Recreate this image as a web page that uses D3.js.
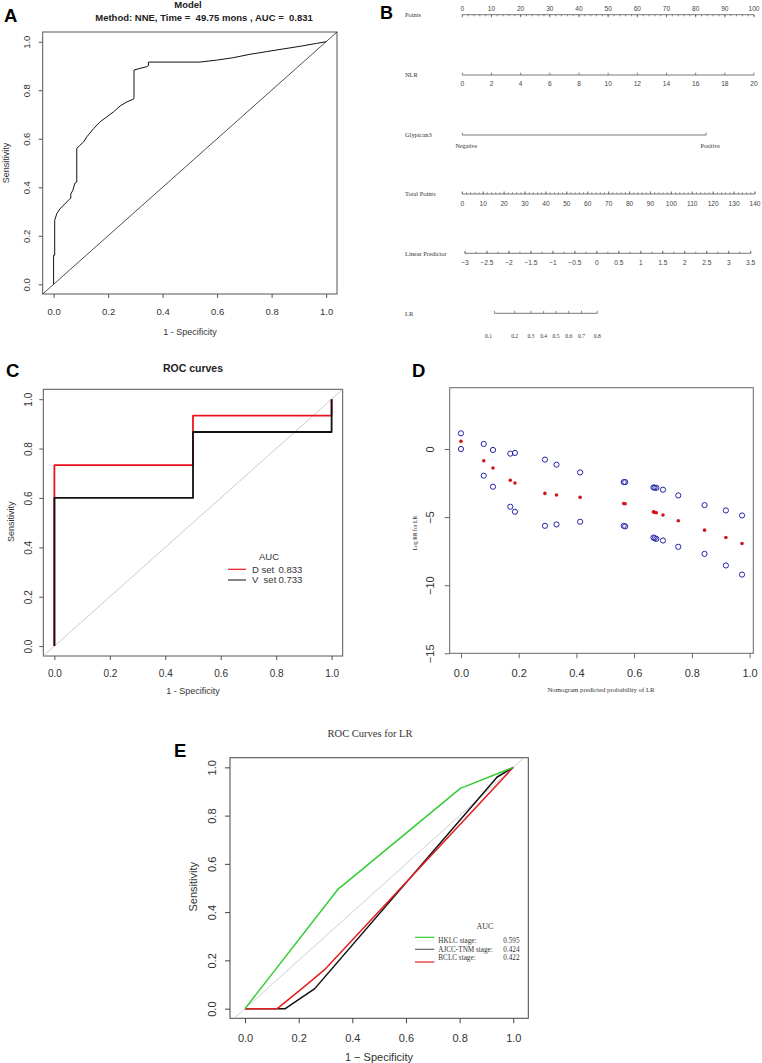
<!DOCTYPE html>
<html><head><meta charset="utf-8">
<script src="https://cdn.jsdelivr.net/npm/d3@7"></script>
<style>
body{margin:0;background:#fff}
svg{display:block;background:#fff}
text{font-family:"Liberation Sans",Arial,sans-serif;fill:#333}
.serif{font-family:"Liberation Serif","Times New Roman",serif}
</style>
</head><body>
<svg id="c" width="762" height="1063"></svg>
<script>
// ---------------- DATA ----------------
// Panel A: ROC (NNE, time 49.75 months)
const aFpr = [0,0,0.004,0.004,0.012,0.024,0.049,0.061,0.063,0.063,0.071,0.076,0.079,0.085,0.085,0.095,0.11,0.122,0.147,0.171,0.195,0.22,0.244,0.269,0.293,0.295,0.295,0.317,0.342,0.348,0.348,0.537,0.598,0.659,0.72,0.781,0.842,0.904,0.965,1];
const aTpr = [0,0.12,0.12,0.264,0.292,0.312,0.34,0.354,0.354,0.372,0.388,0.409,0.418,0.422,0.56,0.571,0.587,0.608,0.642,0.67,0.69,0.711,0.735,0.752,0.763,0.769,0.883,0.89,0.897,0.902,0.916,0.916,0.924,0.934,0.948,0.959,0.97,0.981,0.993,1];
const aTitle1 = "Model";
const aTitle2 = "Method: NNE, Time =  49.75 mons , AUC =  0.831";

// Panel B: nomogram
const pointsTicks = [0,10,20,30,40,50,60,70,80,90,100];
const pointsMinor = d3.range(0,101,2);
const nlrTicks = [0,2,4,6,8,10,12,14,16,18,20];
const nlrToPoints = 5;             // points per NLR unit
const glypicanLevels = ["Negative","Positive"];
const glypicanPoints = [0,83.6];
const totalTicks = [0,10,20,30,40,50,60,70,80,90,100,110,120,130,140];
const totalMinor = d3.range(0,141,2);
const lpTicks = [-3,-2.5,-2,-1.5,-1,-0.5,0,0.5,1,1.5,2,2.5,3,3.5];
const lpMinor = d3.range(-3,3.51,0.25);
const lrTicks = [0.1,0.2,0.3,0.4,0.5,0.6,0.7,0.8];
const lrAtLP = [-2.33,-1.87,-1.50,-1.21,-0.93,-0.64,-0.35,0.01];
const bRows = ["Points","NLR","Glypican3","Total Points","Linear Predictor","LR"];

// Panel C: ROC curves
const cSets = ["D set","V  set"];
const cAUC = ["0.833","0.733"];
const cRedFpr = [0,0,0.5,0.5,1,1],   cRedTpr = [0,0.733,0.733,0.933,0.933,1];
const cBlkFpr = [0,0,0.5,0.5,1,1],   cBlkTpr = [0,0.6,0.6,0.867,0.867,1];

// Panel D: log RR vs nomogram predicted probability
const dX     = [0,0.079,0.111,0.171,0.187,0.291,0.331,0.413,0.564,0.569,0.667,0.671,0.677,0.70,0.753,0.844,0.918,0.974];
const dMean  = [0.56,-0.86,-1.40,-2.30,-2.50,-3.26,-3.38,-3.55,-4.00,-4.02,-4.62,-4.65,-4.68,-4.85,-5.27,-5.96,-6.50,-6.94];
const dUpper = [1.15,0.37,-0.07,-0.34,-0.29,-0.78,-1.15,-1.72,-2.43,-2.43,-2.82,-2.84,-2.85,-2.99,-3.41,-4.12,-4.51,-4.88];
const dLower = [0.0,-1.96,-2.77,-4.24,-4.61,-5.64,-5.54,-5.34,-5.64,-5.68,-6.50,-6.55,-6.60,-6.72,-7.18,-7.70,-8.55,-9.22];
const dYTicks = [0,-5,-10,-15];

// Panel E: ROC curves for LR
const eNames = ["HKLC stage:","AJCC-TNM stage:","BCLC stage:"];
const eAUC = ["0.595","0.424","0.422"];
const eGreenFpr = [0,0.348,0.36,0.805,0.82,1],  eGreenTpr = [0,0.497,0.507,0.915,0.92,1];
const eBlackFpr = [0,0.15,0.26,0.94,1],          eBlackTpr = [0,0,0.083,0.96,1];
const eRedFpr   = [0,0.12,0.22,0.30,1],          eRedTpr   = [0,0,0.09,0.165,1];

const unitTicks = [0,0.2,0.4,0.6,0.8,1.0];

// ---------------- DRAW ----------------
const svg = d3.select("#c");
let clipId = 0;

function rPanel(c){
  const g = svg.append("g");
  const x = d3.scaleLinear().domain(c.xdom).range([c.left,c.right]);
  const y = d3.scaleLinear().domain(c.ydom).range([c.bottom,c.top]);
  const fmt = c.fmt || (d=>d.toFixed(1));
  const gx = g.append("g").attr("transform",`translate(0,${c.bottom})`)
    .call(d3.axisBottom(x).tickValues(c.xticks).tickSize(c.tick).tickSizeOuter(0).tickPadding(c.xpad).tickFormat(fmt));
  gx.select(".domain").remove();
  gx.selectAll("line").attr("stroke",c.boxColor);
  gx.selectAll("text").style("font-size",c.fs+"px").attr("fill","#333");
  const gy = g.append("g").attr("transform",`translate(${c.left},0)`)
    .call(d3.axisLeft(y).tickValues(c.yticks).tickSize(c.tick).tickSizeOuter(0).tickFormat(c.yfmt||fmt));
  gy.select(".domain").remove();
  gy.selectAll("line").attr("stroke",c.boxColor);
  gy.selectAll("text").style("font-size",c.fs+"px").attr("fill","#333")
    .attr("x",0).attr("y",-c.yoff).attr("dy",0).attr("text-anchor","middle").attr("transform","rotate(-90)");
  g.append("rect").attr("x",c.left).attr("y",c.top).attr("width",c.right-c.left).attr("height",c.bottom-c.top)
    .attr("fill","none").attr("stroke",c.boxColor).attr("stroke-width",1);
  const id = "clip"+(clipId++);
  g.append("clipPath").attr("id",id).append("rect").attr("x",c.left).attr("y",c.top)
    .attr("width",c.right-c.left).attr("height",c.bottom-c.top);
  const plot = g.append("g").attr("clip-path",`url(#${id})`);
  return {g,x,y,plot};
}
function curve(p, xs, ys, color, w){
  const pts = xs.map((v,i)=>[v,ys[i]]);
  p.plot.append("path").datum(pts)
    .attr("d", d3.line().x(d=>p.x(d[0])).y(d=>p.y(d[1])))
    .attr("fill","none").attr("stroke",color).attr("stroke-width",w).attr("stroke-linejoin","round");
}
function diag(p, color, w){
  const lo = Math.min(p.x.domain()[0],p.y.domain()[0])-1, hi = Math.max(p.x.domain()[1],p.y.domain()[1])+1;
  p.plot.append("line").attr("x1",p.x(lo)).attr("y1",p.y(lo)).attr("x2",p.x(hi)).attr("y2",p.y(hi))
    .attr("stroke",color).attr("stroke-width",w);
}
function txt(x,y,s,opt={}){
  const t = svg.append("text").attr("x",x).attr("y",y).text(s)
    .style("font-size",(opt.fs||10)+"px").attr("text-anchor",opt.anchor||"start");
  if(opt.bold) t.style("font-weight","bold");
  if(opt.serif) t.attr("class","serif");
  if(opt.fill) t.style("fill",opt.fill);
  if(opt.rot){ t.attr("transform",`rotate(-90,${x},${y})`).attr("dominant-baseline","central"); }
  if(opt.pre) t.style("white-space","pre");
  return t;
}

// Panel letters
txt(4,21.7,"A",{fs:18.5,bold:true,fill:"#000"});
txt(380,18.7,"B",{fs:18,bold:true,fill:"#000"});
txt(6,376.7,"C",{fs:18.5,bold:true,fill:"#000"});
txt(412,377.3,"D",{fs:18.5,bold:true,fill:"#000"});
txt(174,757.3,"E",{fs:18.5,bold:true,fill:"#000"});

// ----- Panel A -----
const pA = rPanel({left:42.7,right:337,top:32,bottom:294,xdom:[-0.04,1.04],ydom:[-0.04,1.04],
  xticks:unitTicks,yticks:unitTicks,tick:4,xpad:10,yoff:12.5,fs:9.5,boxColor:"#555"});
diag(pA,"#222",0.8);
curve(pA,aFpr,aTpr,"#111",1);
txt(188,8,aTitle1,{fs:9.5,bold:true,anchor:"middle",fill:"#222"});
txt(204,20.5,aTitle2,{fs:9.5,bold:true,anchor:"middle",fill:"#222"}).style("white-space","pre");
txt(190,335,"1 - Specificity",{fs:9,anchor:"middle"});
txt(6,163,"Sensitivity",{fs:9,anchor:"middle",rot:true});

// ----- Panel B (nomogram) -----
const sPts = d3.scaleLinear().domain([0,100]).range([462.3,754]);
const sTot = d3.scaleLinear().domain([0,140]).range([462.3,755]);
const sLP  = d3.scaleLinear().domain([-3,3.5]).range([465,750.7]);
const bY = [14.7,75,135,194,253.3,313.3];
const bLine = "#555", bTxt = "#444";
const gB = svg.append("g");
function hline(x1,x2,y){ gB.append("line").attr("x1",x1).attr("x2",x2).attr("y1",y).attr("y2",y).attr("stroke",bLine).attr("stroke-width",0.8); }
function ticks(scale,vals,y,len){ gB.selectAll(null).data(vals).enter().append("line")
  .attr("x1",d=>scale(d)).attr("x2",d=>scale(d)).attr("y1",y).attr("y2",y+len).attr("stroke",bLine).attr("stroke-width",0.7); }
function labels(scale,vals,y,fmt,opt){ vals.forEach(v=>txt(scale(v),y,fmt(v),Object.assign({anchor:"middle",fill:bTxt},opt))); }
bRows.forEach((r,i)=>txt(405,bY[i]+2.3,r,{fs:6.4,serif:true,fill:"#333"}));
// Points
hline(sPts(0),sPts(100),bY[0]);
ticks(sPts,pointsMinor,bY[0],1.6); ticks(sPts,pointsTicks,bY[0],2.6);
labels(sPts,pointsTicks,11.3,d=>d,{fs:6.6});
// NLR
const sNLR = v=>sPts(v*nlrToPoints);
hline(sNLR(0),sNLR(20),bY[1]);
ticks(sNLR,nlrTicks,bY[1],-2.4);
labels(sNLR,nlrTicks,85.6,d=>d,{fs:6.6});
// Glypican3
hline(sPts(glypicanPoints[0]),sPts(glypicanPoints[1]),bY[2]);
ticks(sPts,glypicanPoints,bY[2],-2.4);
glypicanLevels.forEach((l,i)=>txt(sPts(glypicanPoints[i])+4,148.3,l,{fs:6,serif:true,anchor:"middle",fill:"#333"}));
// Total points
hline(sTot(0),sTot(140),bY[3]);
ticks(sTot,totalMinor,bY[3],-1.6); ticks(sTot,totalTicks,bY[3],-2.6);
labels(sTot,totalTicks,205.5,d=>d,{fs:6.6});
// Linear predictor
hline(sLP(-3),sLP(3.5),bY[4]);
ticks(sLP,lpMinor,bY[4],-1.6); ticks(sLP,lpTicks,bY[4],-2.6);
labels(sLP,lpTicks,264.5,d=>String(d).replace("-","\u2212"),{fs:6.6});
// LR
hline(sLP(lrAtLP[0]),sLP(lrAtLP[lrAtLP.length-1]),bY[5]);
ticks(sLP,lrAtLP,bY[5],-2.4);
lrTicks.forEach((v,i)=>txt(sLP(lrAtLP[i])-(i===0?6:0),337.5,v.toFixed(1),{fs:5.6,serif:true,anchor:"middle",fill:"#333"}));

// ----- Panel C -----
const pC = rPanel({left:43.3,right:342.7,top:389.3,bottom:656,xdom:[-0.04,1.04],ydom:[-0.04,1.04],
  xticks:unitTicks,yticks:unitTicks,tick:4,xpad:9.5,yoff:11.8,fs:10,boxColor:"#555"});
diag(pC,"#bdbdbd",0.8);
curve(pC,cRedFpr,cRedTpr,"#e8141c",1.8);
curve(pC,cBlkFpr,cBlkTpr,"#111",1.8);
txt(193,371.5,"ROC curves",{fs:10.5,bold:true,anchor:"middle",fill:"#222"});
txt(193,693.5,"1 - Specificity",{fs:9,anchor:"middle"});
txt(11.5,521.7,"Sensitivity",{fs:9,anchor:"middle",rot:true});
txt(269,559.5,"AUC",{fs:9.5,anchor:"middle"});
const cLegColors = ["#e8141c","#333"];
cSets.forEach((s,i)=>{
  const yy = 569.3 + i*10.7;
  svg.append("line").attr("x1",228).attr("x2",246).attr("y1",yy).attr("y2",yy).attr("stroke",cLegColors[i]).attr("stroke-width",1.2);
  txt(252,yy+3.4,s,{fs:9.5,pre:true});
  txt(278.5,yy+3.4,cAUC[i],{fs:9.5});
});

// ----- Panel D -----
const pD = rPanel({left:449.7,right:753.3,top:387.7,bottom:653.3,xdom:[-0.039,1.013],ydom:[-15,4.5],
  xticks:unitTicks,yticks:dYTicks,tick:5,xpad:10.7,yoff:15.7,fs:11,boxColor:"#666",
  yfmt:d=>String(d).replace("-","\u2212")});
pD.g.selectAll(null).data(dX).enter().append("circle")
  .attr("cx",d=>pD.x(d)).attr("cy",(d,i)=>pD.y(dUpper[i])).attr("r",2.6)
  .attr("fill","none").attr("stroke","#2424a8").attr("stroke-width",1);
pD.g.selectAll(null).data(dX).enter().append("circle")
  .attr("cx",d=>pD.x(d)).attr("cy",(d,i)=>pD.y(dLower[i])).attr("r",2.6)
  .attr("fill","none").attr("stroke","#2424a8").attr("stroke-width",1);
pD.g.selectAll(null).data(dX).enter().append("circle")
  .attr("cx",d=>pD.x(d)).attr("cy",(d,i)=>pD.y(dMean[i])).attr("r",1.8)
  .attr("fill","#d0161e");
txt(601,692,"Nomogram predicted probability of LR",{fs:6.8,serif:true,anchor:"middle"});
txt(414.7,533,"Log RR for LR",{fs:5.6,serif:true,anchor:"middle",rot:true});

// ----- Panel E -----
const pE = rPanel({left:230,right:528.3,top:757.7,bottom:1018.3,xdom:[-0.056,1.056],ydom:[-0.04,1.04],
  xticks:unitTicks,yticks:unitTicks,tick:5,xpad:10.7,yoff:14.3,fs:11,boxColor:"#444"});
diag(pE,"#c4c4c4",0.8);
curve(pE,eBlackFpr,eBlackTpr,"#111",1.5);
curve(pE,eRedFpr,eRedTpr,"#e02020",1.5);
curve(pE,eGreenFpr,eGreenTpr,"#33cc33",1.5);
txt(370,736.5,"ROC Curves for LR",{fs:10.5,serif:true,anchor:"middle"});
txt(379,1060.5,"1 \u2212 Specificity",{fs:11,anchor:"middle"});
txt(192.7,886.7,"Sensitivity",{fs:11,anchor:"middle",rot:true});
txt(485,929,"AUC",{fs:8,serif:true,anchor:"middle"});
const eLegColors = ["#33cc33","#666","#e02020"];
const eLineY = [937.3,949.3,962];
const eTextY = [943.3,952,960];
eNames.forEach((n,i)=>{
  svg.append("line").attr("x1",415).attr("x2",434.3).attr("y1",eLineY[i]).attr("y2",eLineY[i]).attr("stroke",eLegColors[i]).attr("stroke-width",1.2);
  txt(438.3,eTextY[i],n,{fs:7.2,serif:true});
  txt(503.3,eTextY[i],eAUC[i],{fs:7.2,serif:true});
});
</script>
</body></html>
